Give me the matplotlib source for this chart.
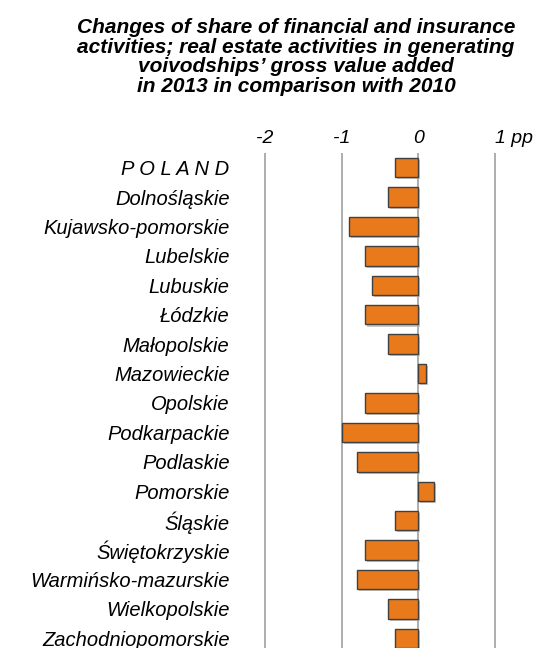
import matplotlib.pyplot as plt
import matplotlib.patheffects as pe
import numpy as np

# dane: zmiana udzialu (pp) 2013 vs 2010
regions = ['P O L A N D', 'Dolnośląskie', 'Kujawsko-pomorskie', 'Lubelskie', 'Lubuskie',
           'Łódzkie', 'Małopolskie', 'Mazowieckie', 'Opolskie', 'Podkarpackie',
           'Podlaskie', 'Pomorskie', 'Śląskie', 'Świętokrzyskie', 'Warmińsko-mazurskie',
           'Wielkopolskie', 'Zachodniopomorskie']
change = [-0.3, -0.4, -0.9, -0.7, -0.6, -0.7, -0.4, 0.1, -0.7, -1.0,
          -0.8, 0.2, -0.3, -0.7, -0.8, -0.4, -0.3]
xticks = [-2, -1, 0, 1]
xticklabels = ['-2', '-1', '0', '1 pp']

title = ('Changes of share of financial and insurance\n'
         'activities; real estate activities in generating\n'
         'voivodships\u2019 gross value added\n'
         'in 2013 in comparison with 2010')

plt.rcParams['font.family'] = ['Liberation Sans', 'DejaVu Sans']

fig = plt.figure(figsize=(5.36, 6.48), dpi=100)
ax = fig.add_axes([0.4517, -0.0077, 0.5002, 0.7716])

y = np.arange(len(regions))
for x in xticks:
    ax.axvline(x, color='#a0a0a0', lw=1.2, zorder=1)
bars = ax.barh(y, change, height=0.66, color='#E87A1B', edgecolor='#404040',
               linewidth=1.0, zorder=3)
for b in bars:
    b.set_path_effects([pe.SimplePatchShadow(offset=(1.5, -1.5), shadow_rgbFace='#b0b0b0', alpha=0.7),
                        pe.Normal()])

ax.set_xlim(-2.3, 1.2)
ax.set_ylim(len(regions) - 0.5, -0.5)
ax.xaxis.tick_top()
ax.set_xticks(xticks)
ax.set_xticklabels(xticklabels, fontsize=14, style='italic')
ax.get_xticklabels()[-1].set_ha('left')
ax.tick_params(axis='x', length=0, pad=4)
ax.set_yticks(y)
ax.set_yticklabels(regions, fontsize=14.5, style='italic')
ax.tick_params(axis='y', length=0, pad=9)
for s in ax.spines.values():
    s.set_visible(False)

fig.text(296 / 536, 1 - 18 / 648, title, ha='center', va='top', fontsize=15,
         fontweight='bold', style='italic', linespacing=1.04)

fig.savefig('out.png', dpi=100)
